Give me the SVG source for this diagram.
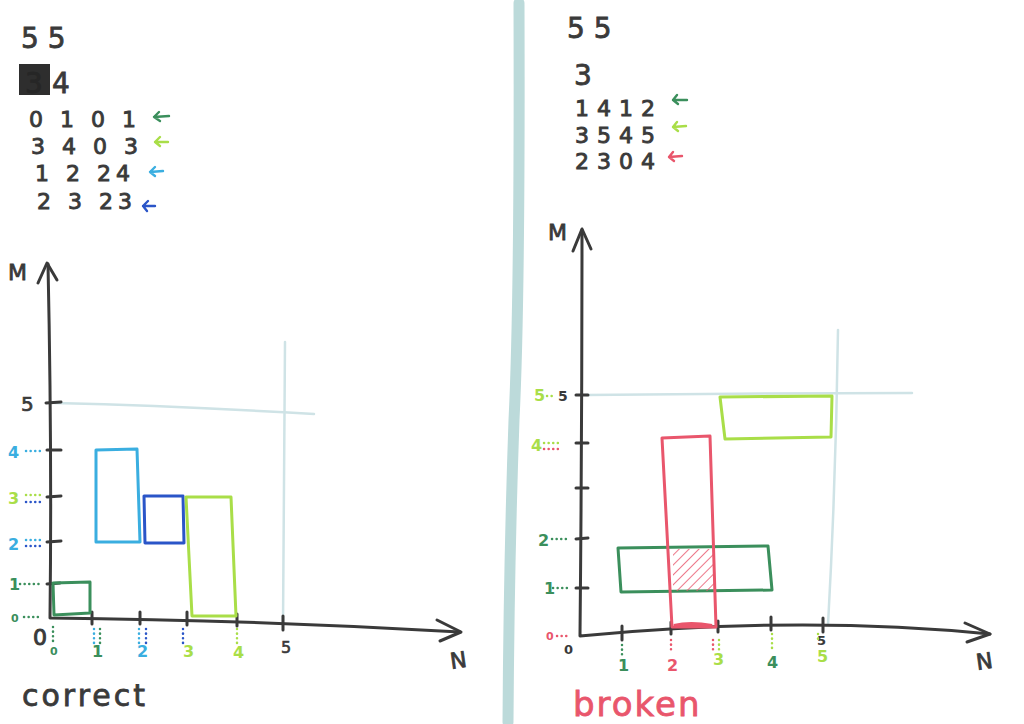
<svg xmlns="http://www.w3.org/2000/svg" width="1024" height="724" viewBox="0 0 1024 724">
<defs>
<style>
.ink{fill:none;stroke:#3a3a3a;stroke-width:3;stroke-linecap:round;stroke-linejoin:round}
.grid{fill:none;stroke:#cfe3e6;stroke-width:2.5;stroke-linecap:round}
.t{font-family:"DejaVu Sans","Liberation Sans",sans-serif;fill:#3a3a3a}
.big{font-size:28px;stroke:#3a3a3a;stroke-width:0.8}
.row{font-size:22px;letter-spacing:5px;stroke:#3a3a3a;stroke-width:0.9}
.row2{font-size:22px;letter-spacing:8px;stroke:#3a3a3a;stroke-width:0.9}
.lbl{font-size:16px;font-weight:bold}
.dot{fill:none;stroke-width:2.5;stroke-linecap:round;stroke-dasharray:0.1 4.5}
.g{stroke:#3b8f5c}.gf{fill:#3b8f5c}
.l{stroke:#a9de48}.lf{fill:#a9de48}
.s{stroke:#3aaee0}.sf{fill:#3aaee0}
.b{stroke:#2a55c8}.bf{fill:#2a55c8}
.r{stroke:#e9566c}.rf{fill:#e9566c}
.box{fill:none;stroke-width:3;stroke-linejoin:round}
.arr{fill:none;stroke-width:2.4;stroke-linecap:round;stroke-linejoin:round}
</style>
<pattern id="hatch" patternUnits="userSpaceOnUse" width="7" height="7" patternTransform="rotate(45)">
<line x1="0" y1="0" x2="0" y2="7" stroke="#e9566c" stroke-width="1.6"/>
</pattern>
</defs>
<rect width="1024" height="724" fill="#ffffff"/>

<!-- divider -->
<path d="M519 3 Q520 300 514 420 Q509 560 508 722" fill="none" stroke="#bcdada" stroke-width="11" stroke-linecap="round"/>

<!-- ===== LEFT PANEL ===== -->
<g id="left-input">
<text class="t big" x="21" y="48">5 5</text>
<rect x="19" y="64" width="31" height="31" fill="#2e2e2e"/>
<text class="t big" x="25" y="93" style="fill:#262626;stroke:#262626">3</text>
<text class="t big" x="52" y="93">4</text>
<text class="t row" x="29" y="127">0 1 0 1</text>
<text class="t row" x="31" y="154">3 4 0 3</text>
<text class="t row" x="35" y="181">1 2 24</text>
<text class="t row" x="37" y="209">2 3 23</text>
<path class="arr g" d="M169 116 L154 117 M159 112 L154 117 L160 121"/>
<path class="arr l" d="M168 142 L155 142 M160 137 L155 142 L160 146"/>
<path class="arr s" d="M163 171 L150 172 M155 167 L150 172 L155 176"/>
<path class="arr b" d="M155 206 L143 206 M148 201 L143 206 L147 211"/>
</g>

<g id="left-grid">
<path class="grid" d="M55 403 Q180 406 314 414"/>
<path class="grid" d="M285 342 L283 625"/>
</g>

<g id="left-axes">
<path class="ink" d="M48 264 Q52 450 50 618 Q250 620 460 632"/>
<path class="ink" d="M38 283 L47 263 L57 280"/>
<path class="ink" d="M437 620 L461 632 L440 641"/>
<text class="t" x="8" y="280" font-size="22" stroke="#3a3a3a" stroke-width="0.8">M</text>
<text class="t" x="450" y="668" font-size="22" stroke="#3a3a3a" stroke-width="0.8" transform="rotate(-8 458 660)">N</text>
<path class="ink" d="M46 403 L61 402 M47 450 L61 450 M47 497 L61 496 M47 542 L61 541 M47 584 L60 583"/>
<path class="ink" d="M92 612 L92 624 M140 612 L140 624 M187 612 L187 625 M237 614 L237 626 M283 616 L283 630"/>
<text class="t" x="21" y="411" font-size="20" stroke="#3a3a3a" stroke-width="0.7">5</text>
<text class="t" x="33" y="645" font-size="22" stroke="#3a3a3a" stroke-width="1">0</text>
<text class="t" x="281" y="653" font-size="16" stroke="#3a3a3a" stroke-width="0.6">5</text>
</g>

<g id="left-labels">
<text class="t lbl sf" x="8" y="458">4</text>
<path class="dot s" d="M26 451 L44 451"/>
<text class="t lbl lf" x="8" y="504">3</text>
<path class="dot l" d="M26 495 L42 495"/>
<path class="dot b" d="M26 502 L42 502"/>
<text class="t lbl sf" x="8" y="550">2</text>
<path class="dot s" d="M26 540 L42 540"/>
<path class="dot b" d="M26 546 L42 546"/>
<text class="t lbl gf" x="9" y="590">1</text>
<path class="dot g" d="M20 584 L40 584"/>
<text class="t gf" x="11" y="622" font-size="11" font-weight="bold">0</text>
<path class="dot g" d="M24 617 L42 617"/>
<path class="dot g" d="M53 627 L53 641"/>
<path class="dot s" d="M94 629 L94 643"/>
<path class="dot g" d="M100 629 L100 643"/>
<path class="dot s" d="M139 629 L139 643"/>
<path class="dot b" d="M146 629 L146 643"/>
<path class="dot b" d="M183 629 L183 643"/>
<path class="dot l" d="M237 629 L237 643"/>
<text class="t gf" x="50" y="655" font-size="11" font-weight="bold">0</text>
<text class="t lbl gf" x="92" y="657">1</text>
<text class="t lbl sf" x="137" y="657">2</text>
<text class="t lbl lf" x="183" y="657">3</text>
<text class="t lbl lf" x="233" y="658">4</text>
</g>

<g id="left-rect-green"><path class="box g" d="M53 583 L90 582 L90 613 L54 615 Z"/></g>
<g id="left-rect-sky"><path class="box s" d="M96 450 L137 449 L140 542 L96 542 Z"/></g>
<g id="left-rect-blue"><path class="box b" d="M144 496 L183 496 L184 543 L145 543 Z"/></g>
<g id="left-rect-lime"><path class="box l" d="M186 497 L231 497 L236 616 L192 616 Z"/></g>

<text class="t" x="22" y="706" font-size="30" letter-spacing="3" stroke="#3a3a3a" stroke-width="0.8">correct</text>

<!-- ===== RIGHT PANEL ===== -->
<g id="right-input">
<text class="t big" x="567" y="38">5 5</text>
<text class="t big" x="574" y="85">3</text>
<text class="t row2" x="575" y="116">1412</text>
<text class="t row2" x="575" y="143">3545</text>
<text class="t row2" x="575" y="169">2304</text>
<path class="arr g" d="M687 100 L673 100 M677 95 L673 100 L678 104"/>
<path class="arr l" d="M686 126 L673 127 M677 122 L673 127 L678 131"/>
<path class="arr r" d="M682 156 L669 157 M673 152 L669 157 L674 161"/>
</g>

<g id="right-grid">
<path class="grid" d="M586 395 Q750 393 912 393"/>
<path class="grid" d="M838 330 Q836 480 828 625"/>
</g>

<g id="right-axes">
<path class="ink" d="M582 230 Q582 430 580 636 Q800 615 990 634"/>
<path class="ink" d="M573 251 L582 229 L591 249"/>
<path class="ink" d="M965 623 L990 634 L967 642"/>
<text class="t" x="548" y="240" font-size="22" stroke="#3a3a3a" stroke-width="0.8">M</text>
<text class="t" x="976" y="669" font-size="22" stroke="#3a3a3a" stroke-width="0.8" transform="rotate(-8 984 660)">N</text>
<path class="ink" d="M576 395 L588 395 M576 443 L588 443 M576 488 L588 488 M576 539 L588 538 M576 588 L588 588"/>
<path class="ink" d="M622 626 L622 640 M671 622 L671 634 M718 621 L718 632 M771 617 L771 630 M823 618 L823 632"/>
<text class="t" x="558" y="401" font-size="14" font-weight="bold">5</text>
<text class="t" x="564" y="654" font-size="13" font-weight="bold">0</text>
<text class="t" x="817" y="645" font-size="13" font-weight="bold">5</text>
</g>

<g id="right-labels">
<text class="t lbl lf" x="534" y="401">5</text>
<path class="dot l" d="M547 396 L556 396"/>
<text class="t lbl lf" x="531" y="451">4</text>
<path class="dot l" d="M544 443 L558 443"/>
<path class="dot r" d="M544 449 L558 449"/>
<text class="t lbl gf" x="538" y="546">2</text>
<path class="dot g" d="M552 539 L570 539"/>
<text class="t lbl gf" x="544" y="594">1</text>
<path class="dot g" d="M553 588 L570 588"/>
<text class="t rf" x="546" y="640" font-size="11" font-weight="bold">0</text>
<path class="dot r" d="M557 636 L570 636"/>
<path class="dot g" d="M622 645 L622 657"/>
<path class="dot r" d="M671 640 L671 652"/>
<path class="dot r" d="M713 640 L713 652"/>
<path class="dot l" d="M719 640 L719 650"/>
<path class="dot l" d="M772 634 L772 648"/>
<path class="dot l" d="M818 634 L818 642"/>
<text class="t lbl gf" x="618" y="671">1</text>
<text class="t lbl rf" x="667" y="671">2</text>
<text class="t lbl lf" x="713" y="665">3</text>
<text class="t lbl gf" x="767" y="668">4</text>
<text class="t lbl lf" x="817" y="662">5</text>
</g>

<g id="right-rect-green"><path class="box g" d="M618 548 L768 546 L772 590 L621 592 Z"/></g>
<g id="right-rect-red">
<rect x="673" y="549" width="42" height="42" fill="url(#hatch)"/>
<path class="box r" d="M662 438 L710 436 L716 627 L672 627 Z"/>
<path d="M674 626 Q690 622 712 626" fill="none" stroke="#e9566c" stroke-width="4"/>
</g>
<g id="right-rect-lime"><path class="box l" d="M720 397 L832 396 L831 437 L725 439 Z"/></g>

<text class="t rf" x="573" y="716" font-size="34" letter-spacing="2" stroke="#e9566c" stroke-width="0.8">broken</text>
</svg>
